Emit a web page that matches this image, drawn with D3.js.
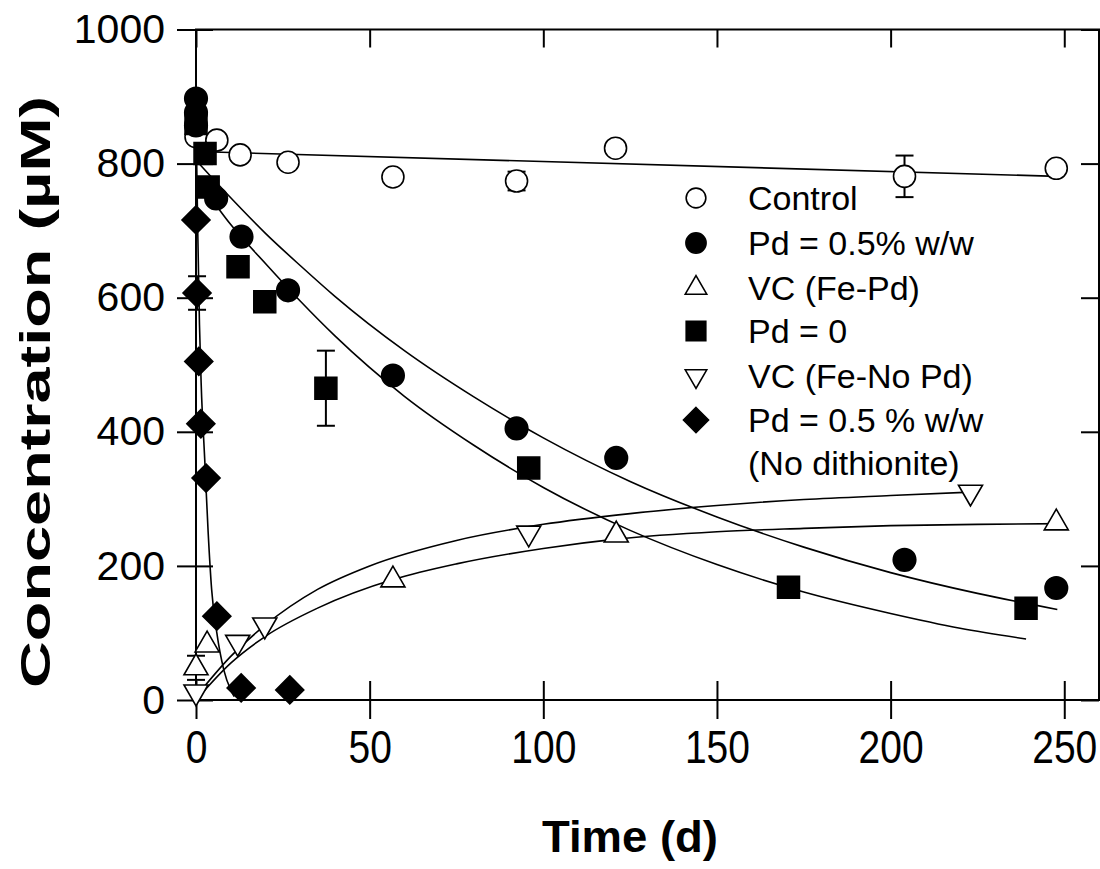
<!DOCTYPE html>
<html><head><meta charset="utf-8">
<script src="https://cdnjs.cloudflare.com/ajax/libs/d3/7.8.5/d3.min.js"></script>
<style>body{margin:0;background:#fff}svg{display:block}</style>
</head><body>
<svg id="c" width="1100" height="869"></svg>
<script>
// ---------- data ----------
const xTicks = [0, 50, 100, 150, 200, 250];
const yTicks = [0, 200, 400, 600, 800, 1000];

const controlT   = [0, 6, 12.7, 26.5, 56.7, 92.3, 120.8, 204, 247.7];
const controlC   = [840, 835, 813, 802, 780, 774, 823, 781, 793];
const controlErr = [0, 0, 0, 0, 0, 14, 0, 31, 0];

const pd05T = [0, 0, 0, 5.8, 13.1, 26.5, 56.7, 92.3, 121, 204, 247.7];
const pd05C = [897, 876, 857, 748, 691, 611, 484, 405, 361, 209, 167];

const pd0T   = [0, 2.6, 3.5, 12.1, 19.8, 37.4, 95.8, 170.6, 239];
const pd0C   = [860, 815, 765, 646, 594, 465, 346, 168, 137];
const pd0Err = [0, 0, 0, 0, 8, 56, 0, 0, 0];

const vcFePdT   = [0, 3.2, 56.7, 121, 247.7];
const vcFePdC   = [48, 82, 179, 246, 264];
const vcFePdErr = [18, 0, 0, 0, 0];

const vcFeNoPdT = [0, 12, 19.8, 95.8, 223];
const vcFeNoPdC = [12, 86, 112, 249, 310];

const pdNoDithT   = [0, 0.3, 0.8, 1.4, 2.9, 6, 13, 27];
const pdNoDithC   = [716, 607, 505, 412, 331, 125, 18, 15];
const pdNoDithErr = [0, 25, 0, 0, 0, 0, 0, 0];

// fitted curves, points
const fitControlT = [0, 248];
const fitControlC = [818, 781];
const fitPd05T = [0, 10, 20, 30, 40, 60, 80, 100, 125, 150, 175, 200, 225, 248];
const fitPd05C = [805, 749, 696, 648, 602, 521, 452, 391, 326, 273, 228, 190, 159, 135];
const fitPd0T  = [0, 10, 20, 30, 40, 60, 80, 100, 125, 150, 175, 200, 220, 239];
const fitPd0C  = [780, 709, 651, 595, 543, 453, 380, 317, 253, 202, 161, 129, 107, 91];
const fitNoDithT = [0, 0.5, 1, 1.5, 2.5, 3.5, 4.5, 6, 8, 10, 11];
const fitNoDithC = [870, 700, 560, 470, 360, 250, 165, 100, 45, 15, 5];
const fitFeNoPdT = [0, 10, 20, 35, 50, 75, 100, 125, 150, 175, 200, 223];
const fitFeNoPdC = [5, 65, 112, 165, 200, 238, 262, 278, 290, 299, 305, 310];
const fitFePdT = [0, 10, 20, 35, 57, 75, 100, 121, 150, 175, 200, 225, 250];
const fitFePdC = [0, 55, 95, 137, 180, 203, 226, 240, 251, 256, 260, 262, 263];

const legendLabels = ["Control", "Pd = 0.5% w/w", "VC (Fe-Pd)", "Pd = 0", "VC (Fe-No Pd)", "Pd = 0.5 % w/w", "(No dithionite)"];

// ---------- layout ----------
const svg = d3.select("#c");
const L = 196, R = 1099, T = 29.5, B = 700;
const x = d3.scaleLinear().domain([0, 260]).range([L, R]);
const y = d3.scaleLinear().domain([0, 1000]).range([B, T]);
const FONT = "'Liberation Sans', Arial, sans-serif";

// symbol definitions
const sym = {
  openCircle:  {type: d3.symbolCircle,   size: 380, fill: "#fff", rot: 0},
  fillCircle:  {type: d3.symbolCircle,   size: 400, fill: "#000", rot: 0},
  openTri:     {type: d3.symbolTriangle, size: 250, fill: "#fff", rot: 0},
  fillSquare:  {type: d3.symbolSquare,   size: 480, fill: "#000", rot: 0},
  openTriDown: {type: d3.symbolTriangle, size: 250, fill: "#fff", rot: 180},
  fillDiamond: {type: d3.symbolDiamond2, size: 500, fill: "#000", rot: 0}
};

// ---------- frame & axes ----------
const g = svg.append("g");
g.append("rect").attr("x", L).attr("y", T).attr("width", R - L).attr("height", B - T)
  .attr("fill", "none").attr("stroke", "#000").attr("stroke-width", 2);

const axL = g.append("g").attr("transform", `translate(${L},0)`)
  .call(d3.axisLeft(y).tickValues(yTicks).tickFormat(d3.format("d")).tickSize(19).tickSizeOuter(0).tickPadding(12));
axL.select(".domain").remove();
axL.selectAll("text").style("font-family", FONT).style("font-size", "41px").attr("fill", "#000");
axL.selectAll("line").attr("stroke-width", 2);

const axLi = g.append("g").attr("transform", `translate(${L},0)`)
  .call(d3.axisRight(y).tickValues(yTicks).tickSize(17).tickSizeOuter(0).tickFormat(""));
axLi.select(".domain").remove();
axLi.selectAll("line").attr("stroke-width", 2);

const axR = g.append("g").attr("transform", `translate(${R},0)`)
  .call(d3.axisLeft(y).tickValues(yTicks).tickSize(18).tickSizeOuter(0).tickFormat(""));
axR.select(".domain").remove();
axR.selectAll("line").attr("stroke-width", 2);

const axB = g.append("g").attr("transform", `translate(0,${B})`)
  .call(d3.axisBottom(x).tickValues(xTicks).tickFormat(d3.format("d")).tickSize(19).tickSizeOuter(0).tickPadding(6));
axB.select(".domain").remove();
axB.selectAll("line").attr("stroke-width", 2);
axB.selectAll("text").style("font-family", FONT).style("font-size", "39px").attr("fill", "#000")
  .attr("transform", "scale(1,1.2)");

const axBi = g.append("g").attr("transform", `translate(0,${B})`)
  .call(d3.axisTop(x).tickValues(xTicks).tickSize(19).tickSizeOuter(0).tickFormat(""));
axBi.select(".domain").remove();
axBi.selectAll("line").attr("stroke-width", 2);

const axT = g.append("g").attr("transform", `translate(0,${T})`)
  .call(d3.axisBottom(x).tickValues(xTicks).tickSize(18).tickSizeOuter(0).tickFormat(""));
axT.select(".domain").remove();
axT.selectAll("line").attr("stroke-width", 2);

// axis titles
svg.append("text").attr("x", 630).attr("y", 852).attr("text-anchor", "middle")
  .style("font-family", FONT).style("font-weight", "bold").style("font-size", "44px")
  .attr("textLength", 176).attr("lengthAdjust", "spacingAndGlyphs").text("Time (d)");
svg.append("text").attr("transform", "translate(50,392) rotate(-90)").attr("text-anchor", "middle")
  .style("font-family", FONT).style("font-weight", "bold").style("font-size", "43px")
  .attr("textLength", 592).attr("lengthAdjust", "spacingAndGlyphs").text("Concentration (\u00B5M)");

// ---------- fit lines ----------
const line = d3.line().x(d => x(d[0])).y(d => y(d[1])).curve(d3.curveMonotoneX);
const fits = [
  [fitControlT, fitControlC], [fitPd05T, fitPd05C], [fitPd0T, fitPd0C],
  [fitNoDithT, fitNoDithC], [fitFeNoPdT, fitFeNoPdC], [fitFePdT, fitFePdC]
];
fits.forEach(([ts, cs]) => {
  g.append("path").datum(ts.map((t, i) => [t, cs[i]])).attr("d", line)
    .attr("fill", "none").attr("stroke", "#000").attr("stroke-width", 1.6);
});

// ---------- series ----------
const series = [
  {t: controlT, c: controlC, e: controlErr, s: sym.openCircle},
  {t: vcFePdT, c: vcFePdC, e: vcFePdErr, s: sym.openTri},
  {t: vcFeNoPdT, c: vcFeNoPdC, e: null, s: sym.openTriDown},
  {t: pd0T, c: pd0C, e: pd0Err, s: sym.fillSquare},
  {t: pd05T, c: pd05C, e: null, s: sym.fillCircle},
  {t: pdNoDithT, c: pdNoDithC, e: pdNoDithErr, s: sym.fillDiamond}
];

// error bars first
series.forEach(sr => {
  if (!sr.e) return;
  sr.t.forEach((t, i) => {
    const e = sr.e[i]; if (!e) return;
    const cx = x(t), y1 = y(sr.c[i] - e), y2 = y(sr.c[i] + e);
    g.append("line").attr("x1", cx).attr("x2", cx).attr("y1", y1).attr("y2", y2).attr("stroke", "#000").attr("stroke-width", 2);
    [y1, y2].forEach(yy => g.append("line").attr("x1", cx - 9).attr("x2", cx + 9).attr("y1", yy).attr("y2", yy).attr("stroke", "#000").attr("stroke-width", 2));
  });
});

series.forEach(sr => {
  g.append("g").selectAll("path").data(sr.t.map((t, i) => [t, sr.c[i]])).join("path")
    .attr("d", d3.symbol().type(sr.s.type).size(sr.s.size))
    .attr("transform", d => `translate(${x(d[0])},${y(d[1])}) rotate(${sr.s.rot})`)
    .attr("fill", sr.s.fill).attr("stroke", "#000").attr("stroke-width", 1.6);
});

// ---------- legend ----------
const legSyms = [sym.openCircle, sym.fillCircle, sym.openTri, sym.fillSquare, sym.openTriDown, sym.fillDiamond];
const legRowY = [198, 243, 288, 331, 376, 420, 463];
const leg = svg.append("g");
leg.append("rect").attr("x", 743).attr("y", 205).attr("width", 264).attr("height", 278).attr("fill", "#fff");
legendLabels.forEach((lab, i) => {
  leg.append("text").attr("x", 748).attr("y", legRowY[i] + 12)
    .style("font-family", FONT).style("font-size", "34px").attr("fill", "#000").text(lab);
});
legSyms.forEach((s, i) => {
  leg.append("path").attr("d", d3.symbol().type(s.type).size(s.size * 0.8))
    .attr("transform", `translate(696,${legRowY[i]}) rotate(${s.rot})`)
    .attr("fill", s.fill).attr("stroke", "#000").attr("stroke-width", 1.6);
});
</script>
</body></html>
